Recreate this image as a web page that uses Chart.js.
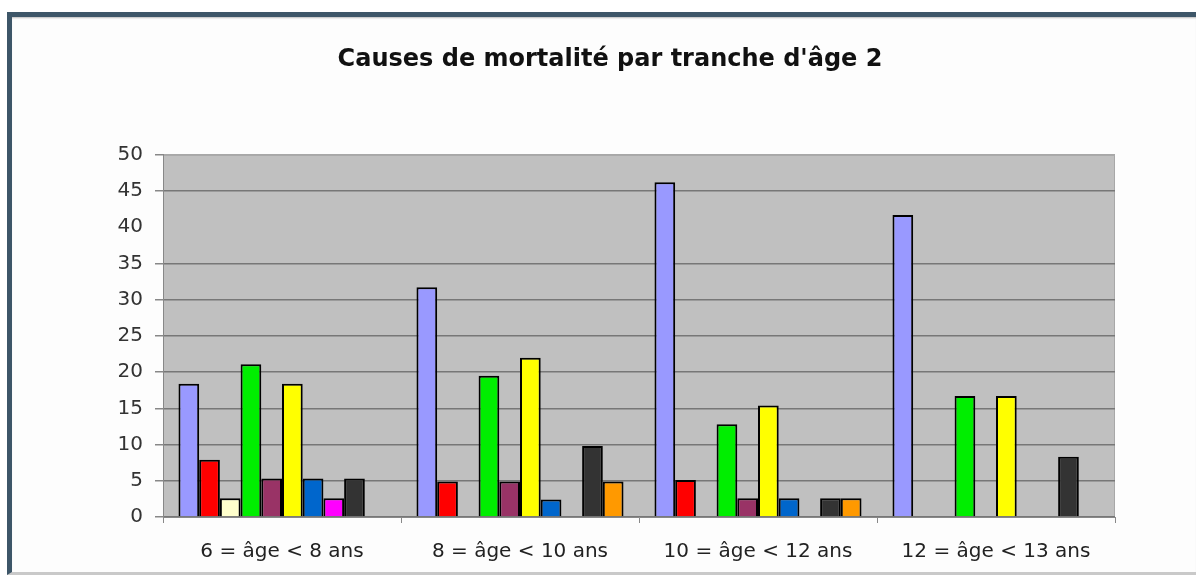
<!DOCTYPE html>
<html>
<head>
<meta charset="utf-8">
<script src="https://cdn.jsdelivr.net/npm/chart.js@4/dist/chart.umd.min.js"></script>
<style>
  html,body{margin:0;padding:0;background:#fff;}
  #frame{position:absolute;left:7px;top:12px;width:1189px;height:563px;
    border-top:5px solid #3d5668;border-left:5px solid #3d5668;border-bottom:3px solid #c9c9c9;
    box-sizing:border-box;background:#fdfdfd;box-shadow:inset 0 2px 2px -1px #bbb;}
  #wrap{position:absolute;left:0;top:0;width:1196px;height:578px;}
</style>
</head>
<body>
<div id="frame"></div>
<div id="wrap"><canvas id="c"></canvas></div>
<script>
    const categories = ['6 = âge < 8 ans', '8 = âge < 10 ans', '10 = âge < 12 ans', '12 = âge < 13 ans'];
    const cause1  = [18.4, 31.7, 46.2, 41.7];
    const cause2  = [7.9, 4.9, 5.1, 0];
    const cause3  = [2.6, 0, 0, 0];
    const cause4  = [21.1, 19.5, 12.8, 16.7];
    const cause5  = [5.3, 4.9, 2.6, 0];
    const cause6  = [18.4, 22.0, 15.4, 16.7];
    const cause7  = [5.3, 2.4, 2.6, 0];
    const cause8  = [2.6, 0, 0, 0];
    const cause9  = [5.3, 9.8, 2.6, 8.3];
    const cause10 = [0, 4.9, 2.6, 0];
    const yMin = 0, yMax = 50, yStep = 5;

    const series = [cause1,cause2,cause3,cause4,cause5,cause6,cause7,cause8,cause9,cause10];
    const colors = ['#9999ff','#ff0000','#ffffcc','#00ee00','#993366','#ffff00','#0066cc','#ff00ff','#333333','#ff9900'];

    // the 40 line doesn't show in the source picture
    const isVal = (c,v)=> c.tick && Math.abs(c.tick.value - v) < 0.01;

    const plotBg = {
        id:'plotBg',
        beforeDraw(chart){
            const {ctx, chartArea:a} = chart;
            ctx.save();
            ctx.fillStyle='#c0c0c0';
            ctx.fillRect(a.left, a.top, a.right-a.left, a.bottom-a.top);
            ctx.strokeStyle='#a8a8a8'; ctx.lineWidth=1;
            ctx.beginPath(); ctx.moveTo(a.left, a.top+0.5); ctx.lineTo(a.right-0.5, a.top+0.5); ctx.lineTo(a.right-0.5, a.bottom); ctx.stroke();
            ctx.restore();
        }
    };

    const font = 'DejaVu Sans';
    new Chart(document.getElementById('c'), {
        type:'bar',
        data:{
            labels:categories,
            datasets: series.map((d,i)=>({
                label:'Cause '+(i+1), data:d,
                backgroundColor:colors[i], borderColor:'#000', borderWidth:2,
                categoryPercentage:.87, barPercentage:1
            }))
        },
        options:{
            responsive:true, maintainAspectRatio:false, animation:false,
            layout:{ padding:{ left:105, right:81, top:0, bottom:0 } },
            plugins:{
                legend:{display:false},
                tooltip:{enabled:false},
                title:{ display:true, text:"Causes de mortalité par tranche d'âge 2",
                    color:'#111', font:{family:font, size:24, weight:'bold'}, padding:{top:45, bottom:81} }
            },
            scales:{
                x:{
                    offset:true,
                    grid:{ offset:true, drawOnChartArea:false, drawTicks:true, tickLength:6, color:'#888' },
                    border:{ color:'#888', width:1 },
                    ticks:{ color:'#222', font:{family:font, size:20}, padding:17, maxRotation:0 },
                    afterFit(s){ s.height = 61; }
                },
                y:{
                    min:yMin, max:yMax,
                    ticks:{ stepSize:yStep, color:'#333', font:{family:font, size:20}, padding:12 },
                    grid:{
                        lineWidth:1.5, tickLength:8,
                        color:(c)=> isVal(c,40) ? 'rgba(0,0,0,0)' : (isVal(c,50) ? '#a8a8a8' : '#777'),
                        tickColor:(c)=> isVal(c,40) ? 'rgba(0,0,0,0)' : '#888'
                    },
                    border:{ color:'#888', width:1 },
                    afterFit(s){ s.width = 58; }
                }
            }
        },
        plugins:[plotBg]
    });
</script>
</body>
</html>
